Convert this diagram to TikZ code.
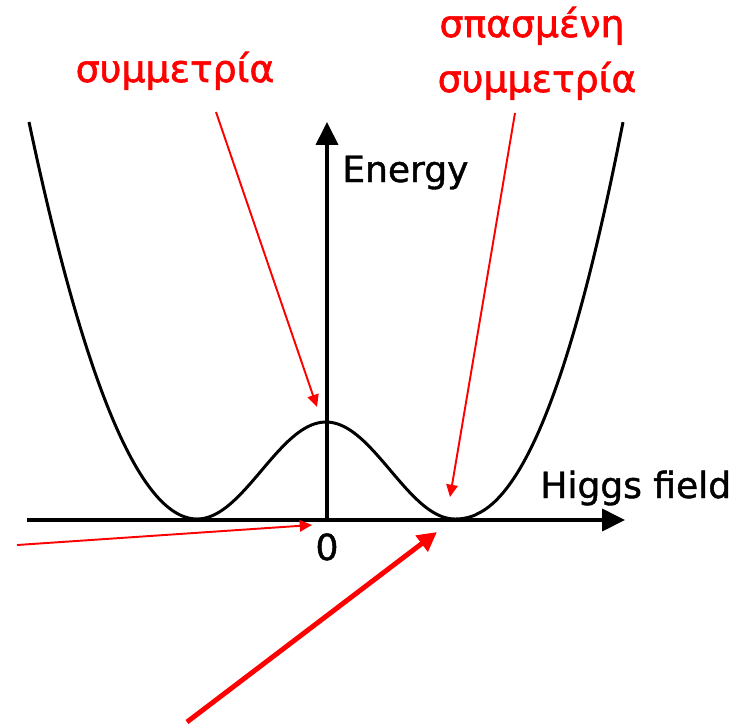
\documentclass[tikz,border=0pt]{standalone}
\usepackage{fontspec}
\setmainfont{DejaVu Sans}
\newfontfamily\lblfont[FakeBold=1.2]{DejaVu Sans}
\newfontfamily\grfont[FakeBold=1.6]{DejaVu Sans}
\usetikzlibrary{arrows.meta}
\begin{document}
\begin{tikzpicture}[x=0.02cm,y=-0.02cm,
  axis/.style={line width=2pt,-{Triangle[length=13pt,width=12.5pt]}},
  curve/.style={line width=1.7pt,line join=round},
  thinred/.style={red,line width=1.1pt,-{Triangle[length=7pt,width=6.5pt]}},
  thickred/.style={red,line width=2.8pt,-{Triangle[length=11pt,width=11pt]}},
  redlabel/.style={red,font=\grfont\fontsize{21.5}{26}\selectfont,inner sep=0pt,anchor=base},
  axlabel/.style={font=\lblfont\fontsize{20.5}{24}\selectfont,inner sep=0pt}]
\useasboundingbox (0,0) rectangle (753,724);

% axes
\coordinate (xstart) at (27,520);
\coordinate (xend) at (625,520);
\coordinate (origin) at (327,520);
\coordinate (yend) at (327,122);
\draw[axis] (xstart) -- (xend);
\draw[axis] (origin) -- (yend);

% potential curve
\draw[curve] plot[domain=29:197,samples=60] (\x,{519-397*pow((197-\x)/168,2)})
  -- plot[domain=197:455,samples=80] (\x,{519-48.5*(1+cos(1.39535*(\x-326)))})
  -- plot[domain=455:623,samples=60] (\x,{519-397*pow((\x-455)/168,2.17)});

% labels
\node[redlabel] (sym) at (175,82) {συμμετρία};
\node[redlabel] (broken1) at (532,37) {σπασμένη};
\node[redlabel] (broken2) at (537,92) {συμμετρία};
\node[axlabel,anchor=base west] (energy) at (342,182) {Energy};
\node[axlabel,anchor=base west] (higgs) at (540,498) {Higgs field};
\node[axlabel,anchor=base] (zero) at (327,560) {0};

% red arrows
\coordinate (a1s) at (216,112);
\coordinate (a1e) at (317,407);
\coordinate (a2s) at (515,113);
\coordinate (a2e) at (450,497);
\coordinate (a3s) at (17,545);
\coordinate (a3e) at (312,525);
\coordinate (a4s) at (187,722);
\coordinate (a4e) at (437,532);
\draw[thinred] (a1s) -- (a1e);
\draw[thinred] (a2s) -- (a2e);
\draw[thinred] (a3s) -- (a3e);
\draw[thickred] (a4s) -- (a4e);
\end{tikzpicture}
\end{document}
